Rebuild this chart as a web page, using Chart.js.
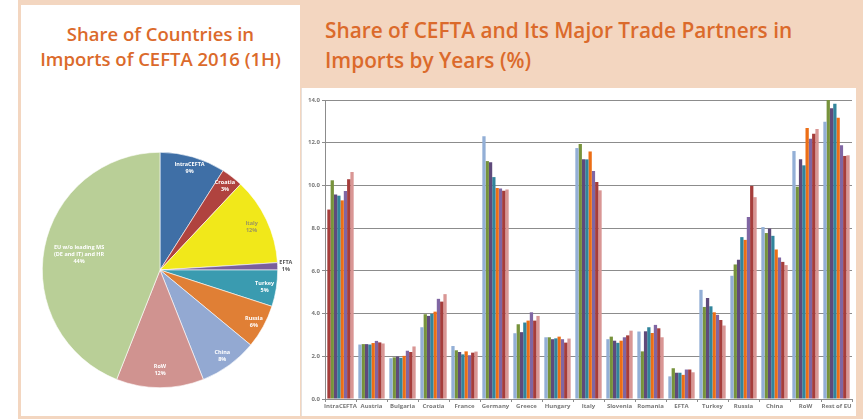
<!DOCTYPE html>
<html>
<head>
<meta charset="utf-8">
<script src="https://cdn.jsdelivr.net/npm/chart.js@4/dist/chart.umd.min.js"></script>
<style>
  html, body { margin: 0; padding: 0; background: #fff; }
  body { width: 863px; height: 419px; position: relative; overflow: hidden; font-family: "Open Sans", sans-serif; }
  .frame { position: absolute; left: 18px; top: 0; width: 845px; height: 419px; background: #f3d6c0; }
  .leftPanel { position: absolute; left: 21px; top: 5px; width: 279px; height: 411px; background: #fff; }
  .rightPanel { position: absolute; left: 301px; top: 88px; width: 554px; height: 328px; background: #fff; border-left: 1px solid #e6e0dc; }
  .title { position: absolute; color: #db6a2b; font-weight: 600; font-size: 18.5px; line-height: 25px; }
  #pieTitle { left: 21px; top: 21px; width: 279px; text-align: center; }
  #barTitle { left: 325px; top: 15px; font-size: 20.8px; line-height: 30px; }
  #pieWrap { position: absolute; left: 20px; top: 130px; width: 280px; height: 280px; }
  #barWrap { position: absolute; left: 300px; top: 88px; width: 560px; height: 327px; }
</style>
</head>
<body>
<div class="frame"></div>
<div class="leftPanel"></div>
<div class="rightPanel"></div>
<div class="title" id="pieTitle">Share of Countries in<br>Imports of CEFTA 2016 (1H)</div>
<div class="title" id="barTitle">Share of CEFTA and Its Major Trade Partners in<br>Imports by Years (%)</div>
<div id="pieWrap"><canvas id="pie"></canvas></div>
<div id="barWrap"><canvas id="bar"></canvas></div>
<script>
// pie: share of countries in CEFTA imports, 2016 (1H)
const pieLabels = ['IntraCEFTA', 'Croatia', 'Italy', 'EFTA', 'Turkey', 'Russia', 'China', 'RoW',
  'EU w/o leading MS (DE and IT) and HR'];
const pieValues = [9, 3, 12, 1, 5, 6, 8, 12, 44];
const pieColors = ['#3f6fa6', '#b0433f', '#f1e81a', '#7a5e9c', '#3a9bb0', '#e07f35', '#93a9d2', '#d09390', '#b9cf97'];

// bars: share by years (%)
const partners = ['IntraCEFTA', 'Austria', 'Bulgaria', 'Croatia', 'France', 'Germany', 'Greece', 'Hungary',
  'Italy', 'Slovenia', 'Romania', 'EFTA', 'Turkey', 'Russia', 'China', 'RoW', 'Rest of EU'];
const yTicks = [0, 2, 4, 6, 8, 10, 12, 14];
const series1 = [8.87, 2.55, 1.91, 3.36, 2.48, 12.30, 3.08, 2.89, 11.75, 2.80, 3.16, 1.06, 5.11, 5.77, 8.05, 11.61, 12.98];
const series2 = [10.24, 2.57, 1.95, 3.97, 2.28, 11.14, 3.50, 2.89, 11.94, 2.92, 2.23, 1.44, 4.31, 6.30, 7.77, 9.94, 14.00];
const series3 = [9.58, 2.57, 1.99, 3.89, 2.20, 11.09, 3.13, 2.80, 11.22, 2.73, 3.17, 1.23, 4.73, 6.52, 7.98, 11.22, 13.61];
const series4 = [9.52, 2.55, 1.93, 3.98, 2.09, 10.39, 3.58, 2.84, 11.22, 2.63, 3.36, 1.23, 4.34, 7.58, 7.64, 10.94, 13.83];
const series5 = [9.30, 2.62, 2.02, 4.09, 2.23, 9.88, 3.67, 2.92, 11.59, 2.73, 3.09, 1.13, 4.06, 7.45, 7.00, 12.69, 13.17];
const series6 = [9.74, 2.72, 2.26, 4.69, 2.05, 9.86, 4.06, 2.80, 10.67, 2.89, 3.47, 1.38, 3.94, 8.52, 6.63, 12.19, 11.88];
const series7 = [10.29, 2.65, 2.20, 4.56, 2.17, 9.75, 3.67, 2.64, 10.16, 2.98, 3.31, 1.38, 3.70, 9.98, 6.42, 12.42, 11.38];
const series8 = [10.63, 2.60, 2.46, 4.91, 2.22, 9.81, 3.89, 2.83, 9.77, 3.20, 2.89, 1.25, 3.44, 9.45, 6.27, 12.64, 11.41];
const seriesNames = ['Series 1', 'Series 2', 'Series 3', 'Series 4', 'Series 5', 'Series 6', 'Series 7', 'Series 8'];
const seriesColors = ['#93afd6', '#77933c', '#5f4a7b', '#31859c', '#ec6e16', '#8066a3', '#a53d3b', '#d99694'];

// labels inside the pie slices
const sliceLabels = {
  id: 'sliceLabels',
  afterDatasetsDraw(chart) {
    const ctx = chart.ctx;
    const meta = chart.getDatasetMeta(0);
    const radiusPos = [0.9, 0.9, 0.86, 1.07, 0.9, 0.91, 0.9, 0.85, 0.7];
    ctx.save();
    ctx.font = 'bold 5.5px "Open Sans"';
    ctx.textAlign = 'center';
    ctx.textBaseline = 'middle';
    meta.data.forEach((arc, i) => {
      const p = arc.getProps(['x', 'y', 'startAngle', 'endAngle', 'outerRadius'], true);
      const mid = (p.startAngle + p.endAngle) / 2;
      const r = p.outerRadius * radiusPos[i];
      const x = p.x + Math.cos(mid) * r;
      const y = p.y + Math.sin(mid) * r;
      let lines = [pieLabels[i], pieValues[i] + '%'];
      if (i === 8) lines = ['EU w/o leading MS', '(DE and IT) and HR', pieValues[i] + '%'];
      ctx.fillStyle = i === 2 ? '#9a9560' : (i === 3 ? '#555' : '#fff');
      const lh = 7;
      lines.forEach((t, k) => ctx.fillText(t, x, y + (k - (lines.length - 1) / 2) * lh));
    });
    ctx.restore();
  }
};

new Chart(document.getElementById('pie'), {
  type: 'pie',
  data: {
    labels: pieLabels,
    datasets: [{ data: pieValues, backgroundColor: pieColors, borderColor: '#fff', borderWidth: 0.6 }]
  },
  options: {
    responsive: true,
    maintainAspectRatio: false,
    animation: false,
    layout: { padding: 22 },
    plugins: { legend: { display: false }, tooltip: { enabled: false } }
  },
  plugins: [sliceLabels]
});

const allSeries = [series1, series2, series3, series4, series5, series6, series7, series8];
const datasets = allSeries.map((vals, i) => {
  let bg = seriesColors[i];
  // first IntraCEFTA bar is drawn dark red in the source chart
  if (i === 0) bg = partners.map((p, k) => k === 0 ? seriesColors[6] : seriesColors[0]);
  return { label: seriesNames[i], data: vals, backgroundColor: bg, borderWidth: 0 };
});

const tickFont = { family: '"Open Sans"', size: 6, weight: 'bold' };

new Chart(document.getElementById('bar'), {
  type: 'bar',
  data: { labels: partners, datasets },
  options: {
    responsive: true,
    maintainAspectRatio: false,
    animation: false,
    layout: { padding: { top: 12, right: 8, left: 0, bottom: 0 } },
    datasets: { bar: { categoryPercentage: 0.85, barPercentage: 1.0 } },
    plugins: { legend: { display: false }, tooltip: { enabled: false } },
    scales: {
      x: {
        afterFit(s) { s.height = 16; },
        grid: { drawOnChartArea: false, offset: true, tickLength: 3, color: '#8c8c8c' },
        border: { color: '#8c8c8c' },
        ticks: { color: '#777', font: tickFont, padding: 1, maxRotation: 0, autoSkip: false }
      },
      y: {
        min: 0,
        max: 14,
        afterFit(s) { s.width = 25; },
        afterBuildTicks(s) { s.ticks = yTicks.map(v => ({ value: v })); },
        grid: { color: '#8c8c8c', lineWidth: 1, tickLength: 3 },
        border: { color: '#8c8c8c' },
        ticks: { color: '#777', font: tickFont, padding: 2, callback: v => v.toFixed(1) }
      }
    }
  }
});
</script>
</body>
</html>
